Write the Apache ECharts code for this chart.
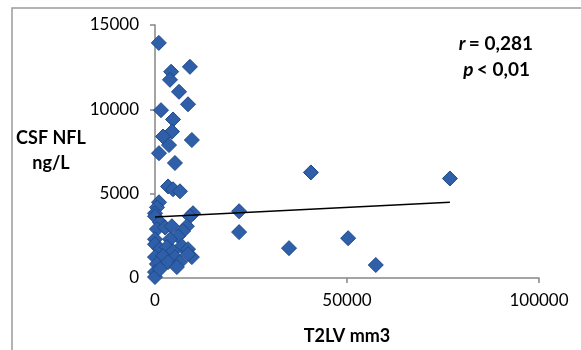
<!DOCTYPE html>
<html>
<head>
<meta charset="utf-8">
<script src="https://cdn.jsdelivr.net/npm/echarts@6/dist/echarts.min.js"></script>
<style>html,body{margin:0;padding:0;background:#fff}#c{width:581px;height:350px}</style>
</head>
<body>
<div id="c"></div>
<script>
// T2LV (mm3) values
const t2lv = [
  1000, 9100, 4200, 3900, 6250, 8600, 1560, 4700, 4430, 2100, 9600, 3650, 1040, 5200,
  3400, 4700, 6500, 1040, 520, 0, 9900, 9100,
  0, 1300, 500, 2600, 4400, 8300, 7300, 6000, 0, 3900, 7000, 8600, 0, 1300, 3100, 4700,
  0, 2100, 5200, 9600, 8600, 500, 3400, 6500, 5700, 0, 0, 1300,
  40600, 76800, 21900, 21900, 34900, 50300, 57500
];
// CSF NFL (ng/L) values
const nfl = [
  13940, 12520, 12230, 11750, 11040, 10300, 9950, 9400, 8680, 8390, 8180, 7880, 7400, 6820,
  5430, 5260, 5140, 4490, 4190, 3840, 3840, 3660,
  3660, 3300, 2900, 3000, 3070, 3070, 2780, 2480, 2300, 2300, 1890, 1710, 2000, 1710, 1830, 1590,
  1240, 1300, 1240, 1240, 1420, 830, 945, 945, 650, 350, 60, 530,
  6260, 5900, 3960, 2720, 1770, 2360, 770
];
// Linear trend line endpoints
const trendX = [0, 76800];
const trendY = [3620, 4490];
const xTicks = [0, 50000, 100000];
const yTicks = [0, 5000, 10000, 15000];

const chart = echarts.init(document.getElementById('c'), null, {renderer: 'canvas'});
const pts = t2lv.map((x, i) => [x, nfl[i]]);
const trend = trendX.map((x, i) => [x, trendY[i]]);
const axisColor = '#868686';
const font = 'Lato, "Open Sans", sans-serif';
const fmt = v => String(v);

chart.setOption({
  animation: false,
  backgroundColor: '#fff',
  grid: {left: 155, right: 42, top: 25, bottom: 71, containLabel: false},
  xAxis: {
    type: 'value', min: xTicks[0], max: xTicks[xTicks.length - 1], interval: 50000,
    axisLine: {show: true, onZero: false, lineStyle: {color: axisColor, width: 1.5}},
    axisTick: {show: true, length: 5, inside: false, lineStyle: {color: axisColor, width: 1.5}},
    splitLine: {show: false},
    axisLabel: {color: '#000', fontSize: 17, fontFamily: font, margin: 14, formatter: fmt},
    name: 'T2LV mm3', nameLocation: 'middle', nameGap: 49,
    nameTextStyle: {color: '#000', fontSize: 18, fontWeight: 'bold', fontFamily: font}
  },
  yAxis: {
    type: 'value', min: yTicks[0], max: yTicks[yTicks.length - 1], interval: 5000,
    axisLine: {show: true, lineStyle: {color: axisColor, width: 1.5}},
    axisTick: {show: true, length: 5, inside: false, lineStyle: {color: axisColor, width: 1.5}},
    splitLine: {show: false},
    axisLabel: {color: '#000', fontSize: 17, fontFamily: font, margin: 16, formatter: fmt}
  },
  graphic: [
    {type: 'rect', shape: {x: 12, y: 8, width: 600, height: 400}, style: {fill: 'none', stroke: '#9a9a9a', lineWidth: 1.5}, z: -1},
    {type: 'text', x: 51, y: 138, style: {text: 'CSF NFL', fill: '#000', font: 'bold 18px ' + font, textAlign: 'center', textVerticalAlign: 'middle'}},
    {type: 'text', x: 51, y: 163, style: {text: 'ng/L', fill: '#000', font: 'bold 18px ' + font, textAlign: 'center', textVerticalAlign: 'middle'}},
    {type: 'text', x: 533, y: 44, style: {
      text: '{i|r} {b|= 0,281}', textAlign: 'right', textVerticalAlign: 'middle',
      rich: {i: {font: 'italic bold 19px ' + font, fill: '#000'}, b: {font: 'bold 19px ' + font, fill: '#000'}}
    }},
    {type: 'text', x: 530, y: 70, style: {
      text: '{i|p} {b|< 0,01}', textAlign: 'right', textVerticalAlign: 'middle',
      rich: {i: {font: 'italic bold 19px ' + font, fill: '#000'}, b: {font: 'bold 19px ' + font, fill: '#000'}}
    }}
  ],
  series: [
    {
      type: 'scatter', data: pts, symbol: 'diamond', symbolSize: 15,
      itemStyle: {color: '#2F5FA9', borderColor: '#1E4A8A', borderWidth: 1, opacity: 1},
      z: 2
    },
    {
      type: 'line', data: trend, showSymbol: false, symbol: 'none',
      lineStyle: {color: '#000', width: 1.5}, z: 3
    }
  ]
});
</script>
</body>
</html>
